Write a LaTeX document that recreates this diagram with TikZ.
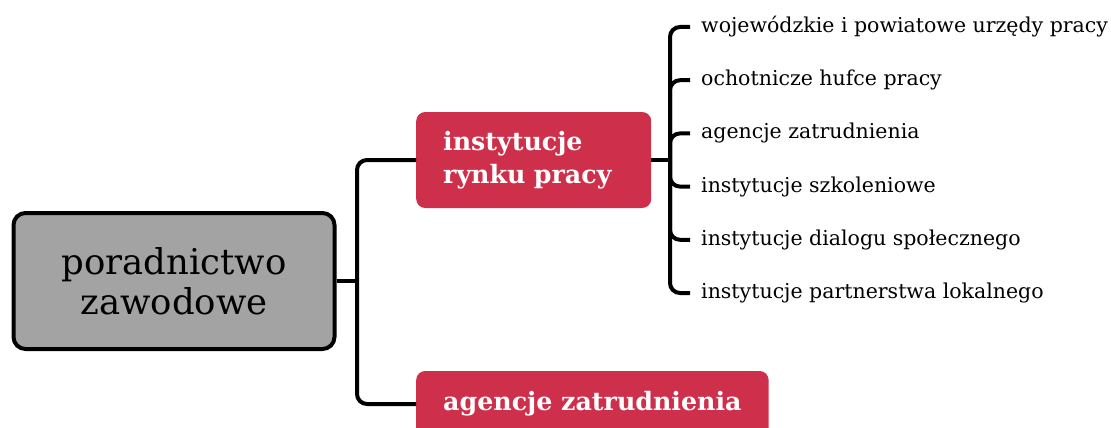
\documentclass[tikz,border=0pt]{standalone}
\usepackage{fontspec}
\setmainfont{DejaVu Serif}
\usetikzlibrary{positioning}
\definecolor{mapred}{HTML}{CE2F4A}
\definecolor{mapgray}{HTML}{A3A3A3}
\tikzset{
	rootbox/.style={draw=black, line width=4pt, fill=mapgray, rounded corners=12pt,
			minimum width=321pt, minimum height=136pt, align=center,
			font=\fontsize{35.5}{40}\selectfont},
	topicbox/.style={fill=mapred, text=white, rounded corners=9pt, anchor=west,
			inner xsep=27pt, font=\bfseries\fontsize{25.3}{33}\selectfont},
	leaf/.style={anchor=west, inner xsep=11pt, font=\fontsize{20.5}{24}\selectfont},
	branch/.style={line width=4pt, rounded corners=10pt}
}

\begin{document}
\begin{tikzpicture}[x=1pt, y=-1pt]
	\clip (0,0) rectangle (1111,428);

	\node[rootbox] (root) at (174,281) {poradnictwo\\zawodowe};
	\node[topicbox, minimum height=96pt, text width=181pt, align=left] (rynek) at (416,160) {instytucje\\rynku pracy};
	\node[topicbox, minimum height=66pt, minimum width=352pt] (agencje) at (416,404) {agencje zatrudnienia};

	\coordinate (rootfork) at (357,281);
	\draw[branch] (root.east) -- (rootfork);
	\foreach \t in {rynek,agencje}
		\draw[branch] (rootfork) |- (\t.west);

	\coordinate (rynekfork) at (670,160);
	\draw[branch] (rynek.east) -- (rynekfork);
	\foreach \txt [count=\i from 0] in {wojewódzkie i powiatowe urzędy pracy, ochotnicze hufce pracy,
			agencje zatrudnienia, instytucje szkoleniowe, instytucje dialogu społecznego,
			instytucje partnerstwa lokalnego} {
		\node[leaf] (leaf\i) at (690,{27+53.2*\i}) {\txt};
		\draw[branch] (rynekfork) |- (leaf\i.west);
	}
\end{tikzpicture}
\end{document}
